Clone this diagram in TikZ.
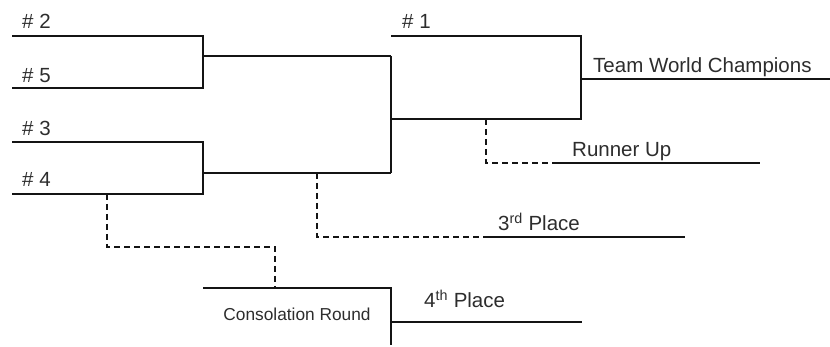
\documentclass[tikz,border=0pt]{standalone}
\usepackage{fontspec}
\setmainfont{Liberation Sans}
\usepackage{xcolor}
\usetikzlibrary{positioning}
\definecolor{trait}{RGB}{20, 20, 20}
\definecolor{texte}{RGB}{45, 45, 45}
\tikzset{
  lien/.style={line width=1.1pt, trait},
  pointille/.style={lien, dash pattern=on 6pt off 4pt},
  etiq/.style={anchor=base west, inner sep=0pt, text=texte,
    font=\fontsize{20.5}{24}\selectfont},
  petite/.style={etiq, anchor=base, font=\fontsize{17.3}{20}\selectfont},
}

\begin{document}
\begin{tikzpicture}[x=1pt, y=-1pt]
        \useasboundingbox (0,0) rectangle (830,347);
        % Points du tableau
        \coordinate (d2) at (12,36);   \coordinate (f2) at (203,36);
        \coordinate (d5) at (12,88);   \coordinate (f5) at (203,88);
        \coordinate (d3) at (12,142);  \coordinate (f3) at (203,142);
        \coordinate (d4) at (12,194);  \coordinate (f4) at (203,194);
        \coordinate (dA) at (203,56);  \coordinate (fA) at (391,56);
        \coordinate (dB) at (203,173); \coordinate (fB) at (391,173);
        \coordinate (d1) at (391,36);  \coordinate (f1) at (581,36);
        \coordinate (dF) at (391,119); \coordinate (fF) at (581,119);
        \coordinate (dC) at (581,79);  \coordinate (fC) at (830,79);
        \coordinate (dR) at (558,163); \coordinate (fR) at (760,163);
        \coordinate (d3e) at (485,237); \coordinate (f3e) at (685,237);
        \coordinate (dK) at (203,288); \coordinate (fK) at (391,288);
        \coordinate (bK) at (391,345);
        \coordinate (d4e) at (391,322); \coordinate (f4e) at (582,322);
        % Premier tour
        \draw[lien] (d2) -- (f2) -- (f5) -- (d5);
        \draw[lien] (d3) -- (f3) -- (f4) -- (d4);
        \draw[lien] (dA) -- (fA);
        \draw[lien] (dB) -- (fB);
        % Demi-finale et finale
        \draw[lien] (fA) -- (fB);
        \draw[lien] (d1) -- (f1) -- (fF) -- (dF);
        \draw[lien] (dC) -- (fC);
        % Places
        \draw[lien] (dR) -- (fR);
        \draw[lien] (d3e) -- (f3e);
        \draw[lien] (dK) -- (fK) -- (bK);
        \draw[lien] (d4e) -- (f4e);
        % Perdants (pointill\'es)
        \draw[pointille] (486,119) |- (dR);
        \draw[pointille] (317,173) |- (d3e);
        \draw[pointille] (107,194) -- (107,247) -| (275,288);
        % Etiquettes
        \node[etiq] (n2) at (22,29) {\# 2};
        \node[etiq] (n5) at (22,83) {\# 5};
        \node[etiq] (n3) at (22,136) {\# 3};
        \node[etiq] (n4) at (22,187) {\# 4};
        \node[etiq] (n1) at (402,29) {\# 1};
        \node[etiq] (champ) at (593,73) {Team World Champions};
        \node[etiq] (second) at (572,157) {Runner Up};
        \node[etiq] (troisieme) at (498,231) {3\textsuperscript{rd} Place};
        \node[etiq] (quatrieme) at (424,308) {4\textsuperscript{th} Place};
        \node[petite] (conso) at (297,321) {Consolation Round};
      \end{tikzpicture}
\end{document}
